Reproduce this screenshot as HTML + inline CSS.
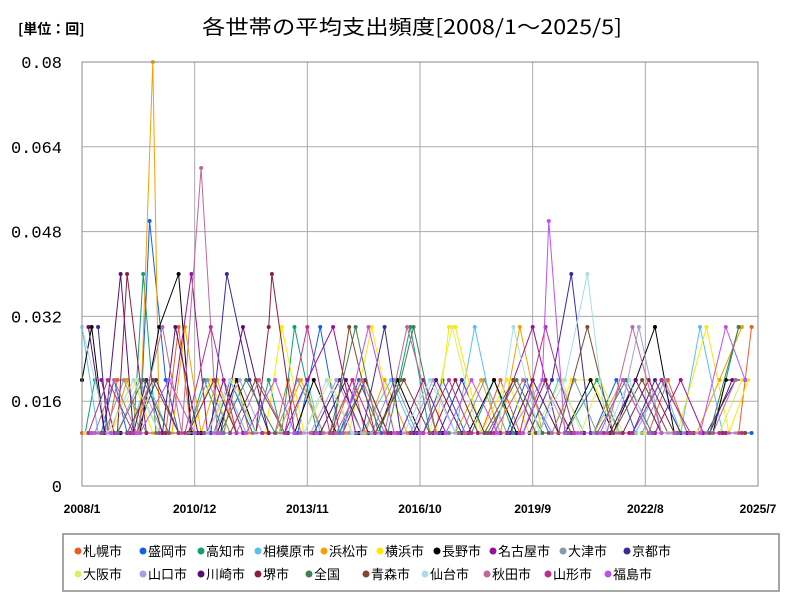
<!DOCTYPE html>
<html><head><meta charset="utf-8"><style>
html,body{margin:0;padding:0;background:#fff;}
body{width:800px;height:600px;overflow:hidden;font-family:"Liberation Sans","Noto Sans CJK JP",sans-serif;}
</style></head><body>
<svg id="chart" width="800" height="600" xmlns="http://www.w3.org/2000/svg" font-family="'Liberation Sans','Noto Sans CJK JP',sans-serif">
<rect width="800" height="600" fill="#fff"/>
<text x="18" y="34" font-size="14" font-weight="bold" font-family="'Noto Sans CJK JP',sans-serif">[単位：回]</text>
<text x="412" y="34" font-size="20" text-anchor="middle" font-family="'Noto Sans CJK JP',sans-serif" textLength="420" lengthAdjust="spacingAndGlyphs">各世帯の平均支出頻度[2008/1～2025/5]</text>
<g id="grid"></g>
<g id="series"></g>
<rect x="82" y="62" width="676" height="424" fill="none" stroke="#888" stroke-width="1"/>
<g id="axes"></g>
<rect x="63" y="534" width="716" height="57" fill="#fff" stroke="#888" stroke-width="1.5"/>
<g id="legend-items"></g>
</svg>
<script>
const yTicks=[0,0.016,0.032,0.048,0.064,0.08];
const yTickLabels=["0","0.016","0.032","0.048","0.064","0.08"];
const xTicks=[0,35,70,105,140,175,210];
const xTickLabels=["2008/1","2010/12","2013/11","2016/10","2019/9","2022/8","2025/7"];
const seriesNames=["札幌市","盛岡市","高知市","相模原市","浜松市","横浜市","長野市","名古屋市","大津市","京都市","大阪市","山口市","川崎市","堺市","全国","青森市","仙台市","秋田市","山形市","福島市"];
const seriesColors=["#f05a23","#1560e8","#10a070","#58c0f0","#f5a000","#ffe800","#000000","#9a109a","#8898a8","#3a2a9a","#d8f060","#a8a0dc","#5a1070","#8a2040","#408050","#804a30","#a8dce8","#c06898","#b83090","#c050f0"];
// [month index from 2008/1, value]
const s0=[[0,0.01],[4,0.01],[8,0.01],[11,0.02],[14,0.02],[18,0.01],[22,0.01],[26,0.01],[30,0.03],[34,0.01],[40,0.01],[44,0.01],[48,0.02],[52,0.01],[56,0.01],[60,0.01],[64,0.02],[68,0.01],[72,0.01],[78,0.01],[84,0.02],[88,0.01],[92,0.01],[98,0.01],[104,0.01],[110,0.01],[118,0.01],[124,0.01],[130,0.02],[136,0.01],[142,0.01],[150,0.01],[156,0.01],[162,0.01],[170,0.01],[176,0.01],[182,0.02],[188,0.01],[194,0.01],[200,0.01],[204,0.01],[208,0.03]];
const s1=[[2,0.01],[6,0.01],[10,0.02],[14,0.01],[18,0.01],[21,0.05],[26,0.02],[30,0.01],[36,0.01],[41,0.01],[46,0.02],[53,0.01],[60,0.01],[67,0.01],[74,0.03],[80,0.01],[86,0.02],[93,0.01],[100,0.01],[106,0.01],[112,0.02],[119,0.01],[126,0.01],[132,0.01],[138,0.02],[145,0.01],[152,0.01],[159,0.01],[166,0.02],[172,0.01],[178,0.01],[184,0.01],[190,0.01],[199,0.01],[208,0.01]];
const s2=[[1,0.01],[4,0.02],[8,0.01],[12,0.01],[16,0.01],[19,0.04],[23,0.01],[28,0.01],[33,0.01],[38,0.02],[44,0.01],[50,0.01],[54,0.01],[58,0.02],[62,0.01],[66,0.03],[73,0.01],[80,0.01],[88,0.02],[95,0.01],[102,0.03],[108,0.01],[114,0.01],[121,0.01],[128,0.02],[134,0.01],[140,0.01],[150,0.01],[160,0.02],[167,0.01],[174,0.01],[185,0.01],[196,0.01],[204,0.03]];
const s3=[[0,0.03],[5,0.01],[9,0.01],[15,0.01],[20,0.02],[27,0.01],[34,0.01],[39,0.01],[44,0.02],[51,0.01],[58,0.01],[64,0.01],[70,0.02],[74,0.01],[78,0.01],[87,0.01],[96,0.02],[103,0.01],[110,0.01],[116,0.01],[122,0.03],[129,0.01],[136,0.01],[142,0.01],[148,0.02],[156,0.01],[164,0.01],[172,0.01],[180,0.02],[186,0.01],[192,0.03],[199,0.01],[206,0.01]];
const s4=[[3,0.01],[9,0.01],[14,0.02],[18,0.01],[22,0.08],[24,0.01],[28,0.01],[32,0.03],[37,0.01],[42,0.02],[48,0.01],[54,0.01],[61,0.01],[68,0.02],[75,0.01],[82,0.01],[88,0.01],[94,0.02],[101,0.01],[108,0.01],[116,0.01],[124,0.02],[130,0.01],[136,0.03],[143,0.01],[150,0.01],[159,0.01],[168,0.02],[176,0.01],[184,0.01],[191,0.01],[198,0.02],[205,0.03]];
const s5=[[1,0.01],[8,0.01],[16,0.02],[22,0.01],[28,0.01],[34,0.01],[40,0.02],[46,0.01],[52,0.01],[57,0.01],[62,0.03],[69,0.01],[76,0.01],[83,0.01],[90,0.03],[97,0.01],[104,0.01],[110,0.01],[114,0.03],[116,0.03],[124,0.01],[132,0.02],[139,0.01],[146,0.01],[152,0.02],[158,0.02],[167,0.01],[176,0.01],[185,0.01],[194,0.03],[201,0.01],[207,0.02]];
const s6=[[0,0.02],[3,0.03],[7,0.01],[12,0.01],[18,0.01],[24,0.03],[30,0.04],[34,0.01],[37,0.01],[42,0.01],[48,0.02],[54,0.01],[60,0.01],[66,0.01],[72,0.02],[79,0.01],[86,0.01],[92,0.01],[98,0.02],[105,0.01],[112,0.01],[120,0.01],[128,0.02],[135,0.01],[142,0.01],[150,0.01],[158,0.02],[165,0.01],[172,0.02],[178,0.03],[184,0.01],[190,0.01],[196,0.01],[200,0.02],[206,0.02]];
const s7=[[6,0.02],[10,0.01],[15,0.01],[20,0.01],[27,0.01],[34,0.04],[39,0.01],[44,0.02],[50,0.01],[56,0.01],[63,0.01],[70,0.02],[78,0.03],[85,0.01],[92,0.01],[99,0.01],[106,0.02],[113,0.01],[120,0.01],[127,0.01],[134,0.02],[140,0.03],[148,0.01],[156,0.01],[163,0.01],[170,0.01],[178,0.01],[186,0.02],[193,0.01],[200,0.01],[205,0.01]];
const s8=[[2,0.01],[7,0.01],[13,0.02],[20,0.01],[27,0.01],[33,0.01],[39,0.02],[46,0.01],[53,0.01],[60,0.01],[67,0.02],[75,0.01],[83,0.01],[90,0.01],[97,0.02],[104,0.01],[111,0.01],[118,0.01],[125,0.02],[132,0.01],[139,0.01],[146,0.01],[153,0.02],[160,0.01],[167,0.01],[174,0.01],[181,0.02],[188,0.01],[195,0.01],[203,0.01]];
const s9=[[5,0.03],[8,0.01],[11,0.01],[17,0.01],[23,0.02],[30,0.01],[36,0.01],[40,0.01],[45,0.04],[52,0.02],[58,0.01],[64,0.01],[72,0.01],[80,0.02],[87,0.01],[94,0.03],[99,0.01],[104,0.01],[111,0.01],[118,0.02],[125,0.01],[132,0.01],[139,0.01],[146,0.02],[152,0.04],[158,0.01],[164,0.01],[171,0.01],[178,0.02],[186,0.01],[194,0.01],[203,0.02]];
const s10=[[1,0.01],[9,0.01],[17,0.02],[24,0.01],[31,0.01],[39,0.01],[47,0.02],[54,0.01],[61,0.01],[69,0.01],[77,0.02],[84,0.01],[91,0.01],[100,0.01],[108,0.01],[115,0.03],[123,0.01],[131,0.01],[140,0.01],[149,0.02],[155,0.01],[161,0.02],[168,0.01],[175,0.01],[183,0.01],[191,0.01],[198,0.01],[205,0.02]];
const s11=[[4,0.01],[11,0.01],[18,0.02],[25,0.01],[33,0.01],[41,0.01],[49,0.02],[56,0.01],[63,0.01],[71,0.01],[79,0.02],[87,0.01],[95,0.01],[102,0.01],[109,0.02],[116,0.01],[123,0.01],[133,0.01],[143,0.02],[151,0.01],[159,0.01],[166,0.01],[173,0.03],[180,0.01],[187,0.01],[194,0.01],[201,0.01]];
const s12=[[2,0.03],[7,0.01],[12,0.04],[16,0.01],[20,0.02],[25,0.01],[29,0.03],[36,0.01],[43,0.01],[50,0.03],[58,0.01],[66,0.01],[74,0.01],[82,0.02],[89,0.01],[96,0.01],[103,0.01],[110,0.02],[118,0.01],[126,0.01],[133,0.01],[140,0.02],[148,0.01],[156,0.01],[164,0.01],[172,0.02],[180,0.01],[188,0.01],[195,0.01],[202,0.02]];
const s13=[[3,0.01],[7,0.01],[11,0.01],[14,0.04],[20,0.01],[26,0.01],[33,0.01],[41,0.02],[48,0.01],[54,0.01],[58,0.03],[59,0.04],[66,0.01],[74,0.01],[81,0.01],[88,0.02],[95,0.01],[102,0.01],[109,0.01],[116,0.02],[123,0.01],[130,0.01],[137,0.01],[144,0.02],[152,0.01],[160,0.01],[168,0.01],[176,0.02],[184,0.01],[192,0.01],[199,0.01]];
const s14=[[3,0.01],[11,0.01],[19,0.02],[27,0.01],[35,0.01],[43,0.01],[51,0.02],[60,0.01],[69,0.01],[77,0.01],[85,0.03],[92,0.01],[99,0.02],[103,0.03],[110,0.01],[117,0.01],[126,0.01],[135,0.02],[143,0.01],[151,0.01],[160,0.01],[169,0.02],[177,0.01],[185,0.01],[195,0.01],[204,0.03]];
const s15=[[6,0.01],[14,0.01],[22,0.02],[30,0.01],[38,0.01],[46,0.01],[54,0.02],[63,0.01],[72,0.01],[78,0.01],[83,0.03],[91,0.01],[100,0.02],[108,0.01],[116,0.01],[125,0.01],[134,0.02],[141,0.01],[148,0.01],[157,0.03],[165,0.01],[174,0.02],[182,0.01],[190,0.01],[198,0.01],[206,0.01]];
const s16=[[0,0.03],[8,0.01],[16,0.02],[24,0.01],[32,0.01],[39,0.01],[46,0.02],[54,0.01],[62,0.01],[69,0.01],[76,0.02],[84,0.01],[92,0.01],[100,0.01],[108,0.02],[116,0.01],[124,0.01],[129,0.01],[134,0.03],[142,0.01],[150,0.02],[157,0.04],[163,0.01],[170,0.02],[176,0.01],[182,0.01],[189,0.01],[196,0.01],[203,0.01]];
const s17=[[4,0.01],[10,0.02],[17,0.01],[25,0.03],[31,0.01],[37,0.06],[42,0.01],[48,0.01],[55,0.02],[63,0.01],[71,0.01],[79,0.01],[87,0.02],[94,0.01],[101,0.03],[110,0.01],[119,0.01],[128,0.01],[137,0.02],[146,0.01],[155,0.01],[163,0.01],[171,0.03],[180,0.01],[189,0.01],[196,0.01],[203,0.02]];
const s18=[[2,0.01],[8,0.02],[16,0.01],[24,0.01],[32,0.01],[40,0.03],[48,0.01],[56,0.01],[63,0.01],[70,0.03],[77,0.01],[84,0.02],[91,0.01],[98,0.01],[106,0.01],[114,0.02],[121,0.01],[128,0.01],[136,0.01],[144,0.03],[153,0.01],[162,0.01],[171,0.01],[180,0.02],[189,0.01],[198,0.01],[205,0.01]];
const s19=[[3,0.01],[9,0.01],[18,0.01],[27,0.02],[35,0.01],[43,0.01],[51,0.01],[60,0.02],[66,0.01],[73,0.01],[81,0.01],[89,0.03],[97,0.01],[105,0.01],[113,0.01],[121,0.02],[129,0.01],[137,0.01],[143,0.02],[145,0.05],[150,0.01],[154,0.01],[161,0.01],[168,0.02],[176,0.01],[184,0.01],[192,0.01],[200,0.03],[206,0.02]];
const allSeries=[s0,s1,s2,s3,s4,s5,s6,s7,s8,s9,s10,s11,s12,s13,s14,s15,s16,s17,s18,s19];

const NS="http://www.w3.org/2000/svg";
const X0=82,X1=758,Y0=486,Y1=62,MMAX=210,VMAX=0.08;
function xs(m){return X0+(X1-X0)*m/MMAX;}
function ys(v){return Y0-(Y0-Y1)*v/VMAX;}
function mk(tag,attrs,parent){const e=document.createElementNS(NS,tag);for(const k in attrs)e.setAttribute(k,attrs[k]);parent.appendChild(e);return e;}
const grid=document.getElementById('grid'),axes=document.getElementById('axes'),ser=document.getElementById('series'),leg=document.getElementById('legend-items');
yTicks.forEach((v,i)=>{
  const l=mk('line',{x1:X0,x2:X1,y1:ys(v),y2:ys(v),stroke:'#aaa','stroke-width':1},grid);
  
  
  const t=mk('text',{x:62,y:ys(v)+6,'font-size':17,'text-anchor':'end','font-family':"'Liberation Mono',monospace"},axes);
  t.textContent=yTickLabels[i];
  
  
});
xTicks.forEach((m,i)=>{
  const l=mk('line',{x1:xs(m),x2:xs(m),y1:Y1,y2:Y0,stroke:'#aaa','stroke-width':1},grid);
  
  
  const t=mk('text',{x:xs(m),y:513,'font-size':12,'font-weight':'bold','text-anchor':'middle'},axes);
  t.textContent=xTickLabels[i];
  
  
});
allSeries.forEach((d,si)=>{
  const g=mk('g',{},ser);
  
  
  const pts=d.slice().sort((a,b)=>a[0]-b[0]).map(p=>xs(p[0]).toFixed(1)+','+ys(p[1]).toFixed(1)).join(' ');
  const pl=mk('polyline',{points:pts,fill:'none',stroke:seriesColors[si],'stroke-width':1},g);
  
  
  d.forEach(p=>{
    const c=mk('circle',{cx:xs(p[0]),cy:ys(p[1]),r:2,fill:seriesColors[si]},g);
    
    
  });
});
const legX=[78,143,201,258,324,380,437,493,563,627,78,143,201,258,309,366,425,487,548,608];
seriesNames.forEach((n,i)=>{
  const y=i<10?551:574;
  const g=mk('g',{},leg);
  
  
  mk('circle',{cx:legX[i],cy:y,r:3.5,fill:seriesColors[i]},g);
  const t=mk('text',{x:legX[i]+5,y:y+5,'font-size':13},g);
  t.textContent=n;
});
</script>
</body></html>
